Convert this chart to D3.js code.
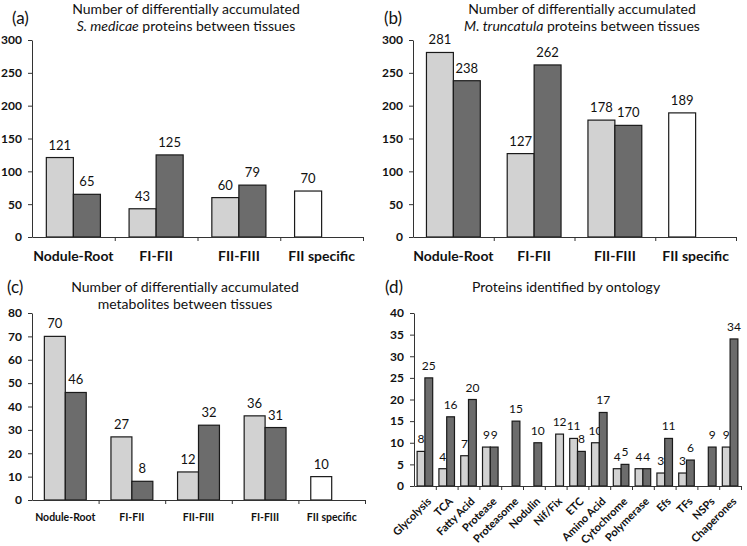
<!DOCTYPE html>
<html>
<head>
<meta charset="utf-8">
<script src="https://cdn.jsdelivr.net/npm/d3@7"></script>
<style>
  body { margin: 0; background: #fff; }
  svg text { font-family: Lato, "Open Sans", sans-serif; fill: #111; }
</style>
</head>
<body>
<svg id="fig" width="747" height="546"></svg>
<script>
// panel (a) S. medicae proteins
var catsA = ["Nodule-Root", "FI-FII", "FII-FIII", "FII specific"];
var lightA = [121, 43, 60, null];
var darkA = [65, 125, 79, null];
var specA = [null, null, null, 70];

// panel (b) M. truncatula proteins
var catsB = ["Nodule-Root", "FI-FII", "FII-FIII", "FII specific"];
var lightB = [281, 127, 178, null];
var darkB = [238, 262, 170, null];
var specB = [null, null, null, 189];

// panel (c) metabolites
var catsC = ["Nodule-Root", "FI-FII", "FII-FIII", "FI-FIII", "FII specific"];
var lightC = [70, 27, 12, 36, null];
var darkC = [46, 8, 32, 31, null];
var specC = [null, null, null, null, 10];

// panel (d) ontology
var catsD = ["Glycolysis", "TCA", "Fatty Acid", "Protease", "Proteasome", "Nodulin", "Nif/Fix",
  "ETC", "Amino Acid", "Cytochrome", "Polymerase", "Efs", "TFs", "NSPs", "Chaperones"];
var lightD = [8, 4, 7, 9, null, null, null, 11, 10, 4, 4, 3, 3, null, 9];
var darkD = [25, 16, 20, 9, 15, 10, null, 8, 17, 5, 4, 11, 6, 9, 34];
var nifD = [null, null, null, null, null, null, 12, null, null, null, null, null, null, null, null];

var LIGHT = "#d2d2d2", DARK = "#6c6c6c", WHITE = "#ffffff";

var svg = d3.select("#fig");

function drawPanel(p) {
  var g = svg.append("g");
  var n = p.cats.length;

  var y = d3.scaleLinear().domain([0, p.max]).range([p.y0, p.y1]);
  var x = d3.scaleBand().domain(p.cats).range([p.x0, p.x1]);
  var xs = d3.scaleBand().domain([0, 1]).range([0, x.bandwidth()]).paddingOuter(p.pad);

  p.series.forEach(function(s) {
    var pts = p.cats.map(function(c, i) { return {c: c, v: s.vals[i]}; })
      .filter(function(d) { return d.v != null; });

    g.selectAll(null).data(pts).enter().append("rect")
      .attr("x", d => x(d.c) + xs(s.slot))
      .attr("width", xs.bandwidth())
      .attr("y", d => y(d.v))
      .attr("height", d => y(0) - y(d.v))
      .attr("fill", s.fill)
      .attr("stroke", "#1a1a1a")
      .attr("stroke-width", 1.2);

    g.selectAll(null).data(pts).enter().append("text")
      .attr("x", d => x(d.c) + xs(s.slot) + xs.bandwidth() / 2)
      .attr("y", d => y(d.v) - 8)
      .attr("text-anchor", "middle")
      .style("font-size", p.valSize + "px")
      .text(d => d.v);
  });

  // y axis
  var yAxis = d3.axisLeft(y)
    .tickValues(d3.range(0, p.max + 1, p.step))
    .tickSize(4).tickSizeOuter(0).tickPadding(6);
  var ya = g.append("g").attr("transform", `translate(${p.x0},0)`).call(yAxis);
  ya.selectAll("text").style("font-size", "12px").style("font-weight", "bold");
  ya.selectAll("line, path").attr("stroke", "#333");

  // x axis, ticks between categories
  var xb = d3.scaleLinear().domain([0, n]).range([p.x0, p.x1]);
  var xa = g.append("g").attr("transform", `translate(0,${p.y0})`)
    .call(d3.axisBottom(xb).tickValues(d3.range(1, n + 1)).tickFormat("").tickSize(4).tickSizeOuter(0));
  xa.selectAll("line, path").attr("stroke", "#333");

  // category labels
  var lab = g.selectAll(null).data(p.cats).enter().append("text")
    .style("font-size", p.catSize + "px")
    .style("font-weight", "bold")
    .text(d => d);
  if (p.rotate) {
    lab.attr("text-anchor", "end")
      .attr("transform", d => `translate(${x(d) + x.bandwidth() / 2 + 7},${p.y0 + 16}) rotate(-45)`);
  } else {
    lab.attr("text-anchor", "middle")
      .attr("x", d => x(d) + x.bandwidth() / 2)
      .attr("y", p.catY);
  }

  // titles
  p.title.forEach(function(line, i) {
    var t = g.append("text")
      .attr("x", p.titleX)
      .attr("y", p.titleY + i * 17)
      .attr("text-anchor", "middle")
      .style("font-size", "14px");
    line.forEach(function(part) {
      t.append("tspan").style("font-style", part.it ? "italic" : "normal").text(part.t);
    });
  });

  g.append("text")
    .attr("x", p.tagX).attr("y", p.tagY)
    .style("font-size", "17px")
    .text(p.tag);
}

drawPanel({
  cats: catsA, max: 300, step: 50, x0: 32, x1: 363, y0: 237, y1: 40, pad: 0.53,
  series: [{vals: lightA, slot: 0, fill: LIGHT}, {vals: darkA, slot: 1, fill: DARK}, {vals: specA, slot: 0, fill: WHITE}],
  catSize: 14, catY: 261, valSize: 13,
  title: [[{t: "Number of differentially accumulated"}], [{t: "S. medicae", it: true}, {t: " proteins between tissues"}]],
  titleX: 186, titleY: 14, tag: "(a)", tagX: 12, tagY: 24
});

drawPanel({
  cats: catsB, max: 300, step: 50, x0: 413, x1: 736, y0: 237, y1: 40, pad: 0.5,
  series: [{vals: lightB, slot: 0, fill: LIGHT}, {vals: darkB, slot: 1, fill: DARK}, {vals: specB, slot: 0, fill: WHITE}],
  catSize: 14, catY: 261, valSize: 13,
  title: [[{t: "Number of differentially accumulated"}], [{t: "M. truncatula", it: true}, {t: " proteins between tissues"}]],
  titleX: 582, titleY: 14, tag: "(b)", tagX: 384, tagY: 24
});

drawPanel({
  cats: catsC, max: 80, step: 10, x0: 32, x1: 365, y0: 500, y1: 313, pad: 0.59,
  series: [{vals: lightC, slot: 0, fill: LIGHT}, {vals: darkC, slot: 1, fill: DARK}, {vals: specC, slot: 0, fill: WHITE}],
  catSize: 10.5, catY: 521, valSize: 13,
  title: [[{t: "Number of differentially accumulated"}], [{t: "metabolites between tissues"}]],
  titleX: 185, titleY: 292, tag: "(c)", tagX: 7, tagY: 293
});

drawPanel({
  cats: catsD, max: 40, step: 5, x0: 414, x1: 741, y0: 486, y1: 313, pad: 0.4,
  series: [{vals: lightD, slot: 0, fill: LIGHT}, {vals: darkD, slot: 1, fill: DARK}, {vals: nifD, slot: 1, fill: LIGHT}],
  catSize: 11, rotate: true, valSize: 12,
  title: [[{t: "Proteins identified by ontology"}]],
  titleX: 566, titleY: 292, tag: "(d)", tagX: 385, tagY: 293
});
</script>
</body>
</html>
